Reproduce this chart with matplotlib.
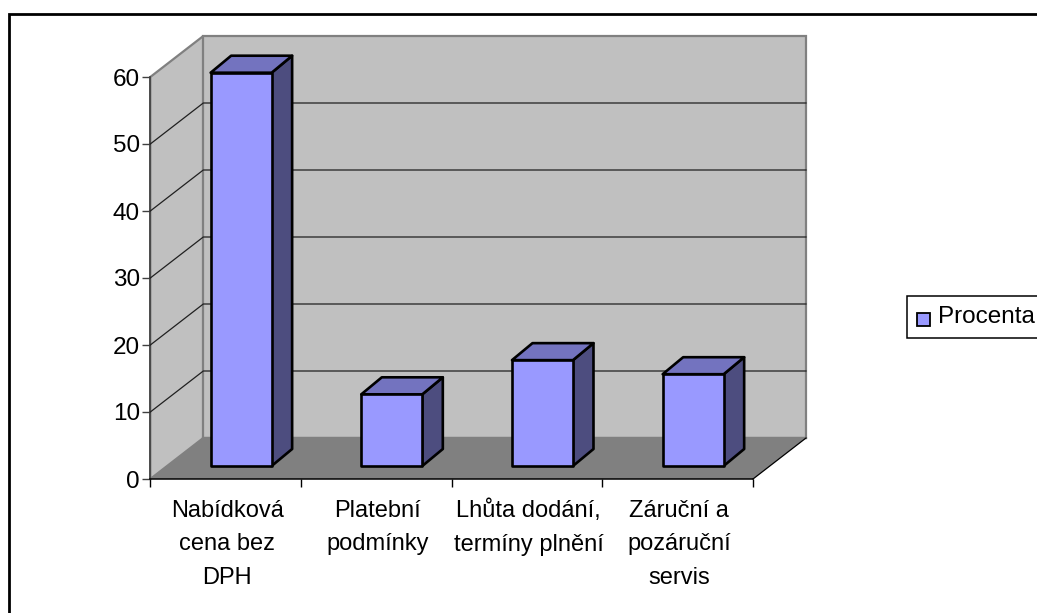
import matplotlib
matplotlib.use("Agg")
import matplotlib.pyplot as plt
from matplotlib.patches import Polygon, Rectangle

categories = ["Nabídková\ncena bez\nDPH", "Platební\npodmínky", "Lhůta dodání,\ntermíny plnění", "Záruční a\npozáruční\nservis"]
values = [58.7, 10.7, 15.8, 13.7]
yticks = [0, 10, 20, 30, 40, 50, 60]
series_name = "Procenta"

W, H = 1037, 613
plt.rcParams["font.family"] = ["Liberation Sans", "DejaVu Sans"]
FS = 17.5
FS_CAT = 17.0

fig = plt.figure(figsize=(W / 100, H / 100), dpi=100)
fig.patch.set_facecolor("white")
fig.add_artist(Rectangle((9 / W, -10 / H), 1040 / W, (H + 10 - 14) / H, transform=fig.transFigure,
                         fc="white", ec="black", lw=2.0, zorder=-5))

L, R, T, B = 150.3, 753, 77, 479
ax = fig.add_axes([L / W, 1 - B / H, (R - L) / W, (B - T) / H])
ax.set_xlim(0, 4)
ax.set_ylim(0, 60)
ax.patch.set_visible(False)
for s in ax.spines.values():
    s.set_visible(False)

# depth of the whole box and of a bar, in data units
ux = (R - L) / 4
uy = (B - T) / 60
DX, DY = 53 / ux, 41 / uy
bx, by = 20.5 / ux, 17 / uy
ox, oy = 15.5 / ux, 13 / uy
bw = 61 / ux
kw = dict(clip_on=False)

wall = "#c0c0c0"; floor = "#808080"; edge = "#808080"
top = yticks[-1]
ax.add_patch(Polygon([(0, 0), (DX, DY), (DX, top + DY), (0, top)], fc=wall, ec=edge, lw=1.6, zorder=1, **kw))
ax.add_patch(Polygon([(DX, DY), (4 + DX, DY), (4 + DX, top + DY), (DX, top + DY)], fc=wall, ec=edge, lw=1.6, zorder=1, **kw))
ax.add_patch(Polygon([(0, 0), (4, 0), (4 + DX, DY), (DX, DY)], fc=floor, ec="none", zorder=2, **kw))
ax.plot([DX, 4 + DX], [DY, DY], color=edge, lw=1.6, zorder=2, **kw)
ax.plot([0, 0], [0, top], color="#404040", lw=1.2, zorder=2, **kw)

for v in yticks[1:-1]:
    ax.plot([0, DX, 4 + DX], [v, v + DY, v + DY], color="#202020", lw=0.9, zorder=2, **kw)
ax.plot([4, 4 + DX], [0, DY], color="black", lw=0.9, zorder=3, **kw)
ax.plot([0, 4], [0, 0], color="black", lw=1.1, zorder=3, **kw)

for i, v in enumerate(values):
    x0 = i + 0.5 - bw / 2 + ox
    x1 = x0 + bw
    y0 = oy
    y1 = oy + v
    st = dict(ec="black", lw=1.9, joinstyle="round", zorder=5, **kw)
    ax.add_patch(Polygon([(x1, y0), (x1 + bx, y0 + by), (x1 + bx, y1 + by), (x1, y1)], fc="#4d4d7f", **st))
    ax.add_patch(Polygon([(x0, y1), (x1, y1), (x1 + bx, y1 + by), (x0 + bx, y1 + by)], fc="#7373bf", **st))
    ax.add_patch(Polygon([(x0, y0), (x1, y0), (x1, y1), (x0, y1)], fc="#9999ff", **st))

ax.set_xticks(range(5), [""] * 5)
ax.set_yticks(yticks)
ax.tick_params(axis="x", length=6, width=1, color="black", pad=0)
ax.tick_params(axis="y", length=6, width=1, color="#404040", labelsize=FS, pad=1.5)
for i, c in enumerate(categories):
    ax.text(i + 0.51, -3.1, c, ha="center", va="top", fontsize=FS_CAT, linespacing=1.68, color="black")

# legend box running off the right side
fig.add_artist(Rectangle((907 / W, 1 - 338 / H), 140 / W, 42 / H, transform=fig.transFigure,
                         fc="white", ec="black", lw=1.1, zorder=6))
fig.add_artist(Rectangle((917 / W, 1 - 326 / H), 13 / W, 13 / H, transform=fig.transFigure,
                         fc="#9999ff", ec="black", lw=1.3, zorder=7))
fig.text(938 / W, 1 - 317 / H, series_name, fontsize=FS, va="center", ha="left", zorder=7)

fig.savefig("out.png", dpi=100)
